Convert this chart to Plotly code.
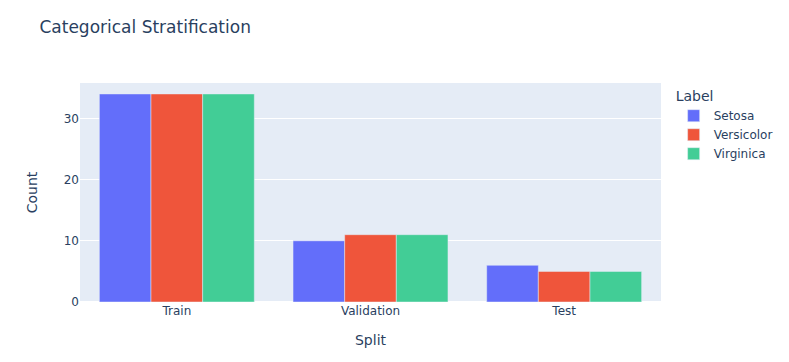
import plotly.graph_objects as go

splits = ["Train", "Validation", "Test"]
labels = ["Setosa", "Versicolor", "Virginica"]
setosa = [34, 10, 6]
versicolor = [34, 11, 5]
virginica = [34, 11, 5]
colors = ["#636efa", "#EF553B", "#42cd96"]

fig = go.Figure()
for name, vals, c in zip(labels, [setosa, versicolor, virginica], colors):
    fig.add_trace(go.Bar(name=name, x=splits, y=vals, marker_color=c,
                         legendgroup=name))

fig.update_layout(
    template="plotly",
    width=789, height=362,
    font=dict(family="Verdana, 'DejaVu Sans', sans-serif"),
    title=dict(text="Categorical Stratification", y=0.925, yanchor="middle",
               yref="container"),
    barmode="group",
    legend=dict(title=dict(text="Label"), tracegroupgap=0),
    xaxis=dict(title=dict(text="Split", standoff=18)),
    yaxis=dict(title=dict(text="Count", standoff=22)),
    margin=dict(l=80, r=127, t=83, b=60),
)
fig.write_html("out.html", config={"displayModeBar": False},
               post_script="document.body.style.margin='0';")
